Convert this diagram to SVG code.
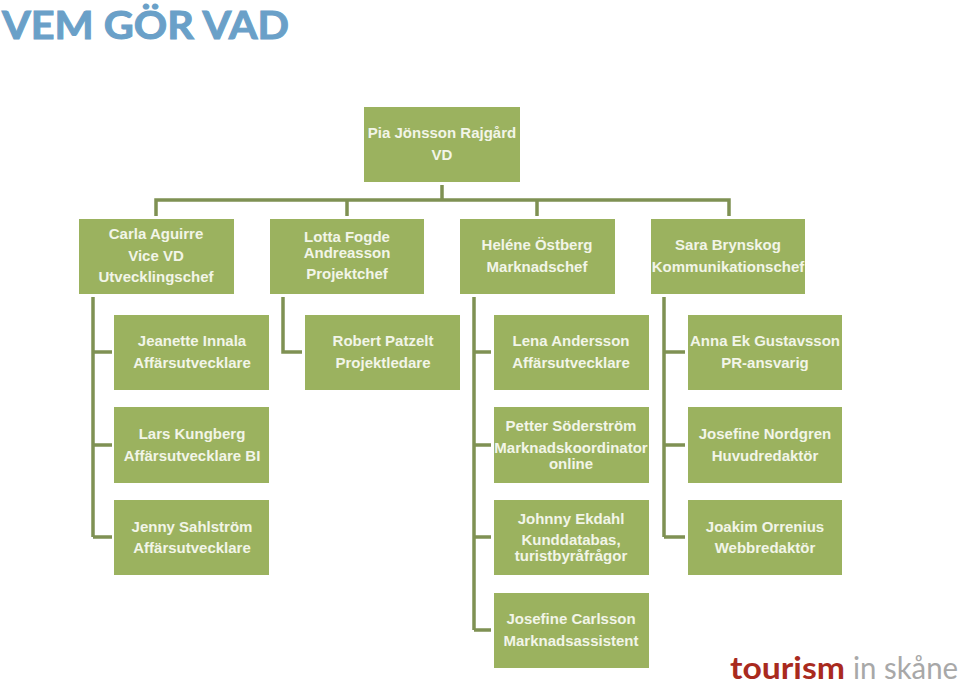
<svg xmlns="http://www.w3.org/2000/svg" width="960" height="686" viewBox="0 0 960 686">
<style>
.n{fill:#9bb25f}
.t{font:bold 15px "Liberation Sans",Arial,sans-serif;fill:#f2f5e8;text-anchor:middle}
.c{fill:none;stroke:#7f9153;stroke-width:3.5}
</style>
<rect width="960" height="686" fill="#fff"/>
<text x="2" y="39" font-family="Lato, sans-serif" font-weight="700" font-size="39" fill="#6aa0c8" stroke="#6aa0c8" stroke-width="1" textLength="287" lengthAdjust="spacingAndGlyphs">VEM GÖR VAD</text>
<g id="connectors" class="c">
<path d="M442 185V200M156 216V200H729V216M347 200V216M537 200V216"/>
<path d="M93 297V537M93 352H112M93 445H112M93 537H112"/>
<path d="M283 297V352H302"/>
<path d="M474 297V630M474 352H491M474 445H491M474 537H491M474 630H491"/>
<path d="M664 297V537M664 352H685M664 445H685M664 537H685"/>
</g>
<g id="n-pia"><rect class="n" x="364" y="107" width="156" height="75"/><text class="t" x="442" y="138">Pia Jönsson Rajgård</text><text class="t" x="442" y="160">VD</text></g>
<g id="n-carla"><rect class="n" x="79" y="219" width="155" height="75"/><text class="t" x="156" y="239">Carla Aguirre</text><text class="t" x="156" y="261">Vice VD</text><text class="t" x="156" y="282">Utvecklingschef</text></g>
<g id="n-lotta"><rect class="n" x="270" y="219" width="154" height="75"/><text class="t" x="347" y="242">Lotta Fogde</text><text class="t" x="347" y="258">Andreasson</text><text class="t" x="347" y="279">Projektchef</text></g>
<g id="n-helene"><rect class="n" x="460" y="219" width="155" height="75"/><text class="t" x="537" y="250">Heléne Östberg</text><text class="t" x="537" y="272">Marknadschef</text></g>
<g id="n-sara"><rect class="n" x="651" y="219" width="154" height="75"/><text class="t" x="728" y="250">Sara Brynskog</text><text class="t" x="728" y="272">Kommunikationschef</text></g>
<g id="n-jeanette"><rect class="n" x="114" y="315" width="155" height="75"/><text class="t" x="192" y="346">Jeanette Innala</text><text class="t" x="192" y="368">Affärsutvecklare</text></g>
<g id="n-robert"><rect class="n" x="305" y="315" width="155" height="75"/><text class="t" x="383" y="346">Robert Patzelt</text><text class="t" x="383" y="368">Projektledare</text></g>
<g id="n-lena"><rect class="n" x="494" y="315" width="155" height="75"/><text class="t" x="571" y="346">Lena Andersson</text><text class="t" x="571" y="368">Affärsutvecklare</text></g>
<g id="n-anna"><rect class="n" x="688" y="315" width="154" height="75"/><text class="t" x="765" y="346">Anna Ek Gustavsson</text><text class="t" x="765" y="368">PR-ansvarig</text></g>
<g id="n-lars"><rect class="n" x="114" y="407" width="155" height="76"/><text class="t" x="192" y="439">Lars Kungberg</text><text class="t" x="192" y="461">Affärsutvecklare BI</text></g>
<g id="n-petter"><rect class="n" x="494" y="407" width="155" height="76"/><text class="t" x="571" y="431">Petter Söderström</text><text class="t" x="571" y="453">Marknadskoordinator</text><text class="t" x="571" y="469">online</text></g>
<g id="n-josefine-n"><rect class="n" x="688" y="407" width="154" height="76"/><text class="t" x="765" y="439">Josefine Nordgren</text><text class="t" x="765" y="461">Huvudredaktör</text></g>
<g id="n-jenny"><rect class="n" x="114" y="500" width="155" height="75"/><text class="t" x="192" y="532">Jenny Sahlström</text><text class="t" x="192" y="553">Affärsutvecklare</text></g>
<g id="n-johnny"><rect class="n" x="494" y="500" width="155" height="75"/><text class="t" x="571" y="524">Johnny Ekdahl</text><text class="t" x="571" y="545">Kunddatabas,</text><text class="t" x="571" y="561">turistbyråfrågor</text></g>
<g id="n-joakim"><rect class="n" x="688" y="500" width="154" height="75"/><text class="t" x="765" y="532">Joakim Orrenius</text><text class="t" x="765" y="553">Webbredaktör</text></g>
<g id="n-josefine-c"><rect class="n" x="494" y="593" width="155" height="75"/><text class="t" x="571" y="624">Josefine Carlsson</text><text class="t" x="571" y="646">Marknadsassistent</text></g>
<g id="logo" font-family="Lato, sans-serif" font-size="30"><text x="730" y="679" font-weight="700" fill="#a92a1e" textLength="115" lengthAdjust="spacingAndGlyphs">tourism</text><text x="853" y="679" fill="#a8a8a8" textLength="105" lengthAdjust="spacingAndGlyphs">in skåne</text></g>
</svg>
